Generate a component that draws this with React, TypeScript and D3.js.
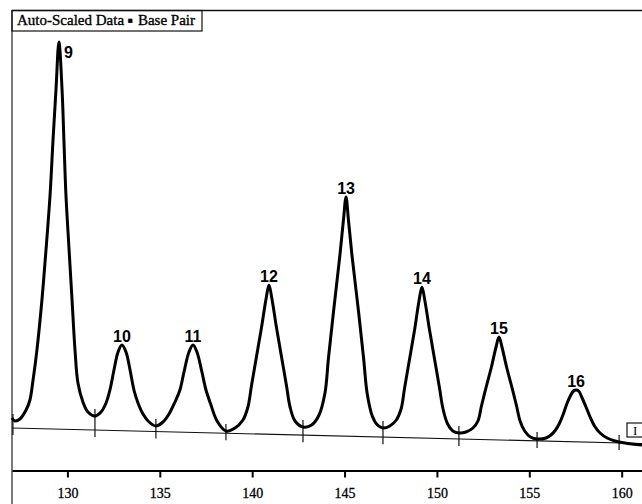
import { useEffect, useRef } from 'react';
import * as d3 from 'd3';

const W = 642;
const H = 504;

// base pair ticks on the bottom axis
const tickValues = [130, 135, 140, 145, 150, 155, 160];

// trace: [base pair, signal]
const trace: [number, number][] = [
  [127.00, 27], [127.16, 24], [127.43, 26], [127.76, 35], [127.97, 45], [128.14, 65], [128.35, 95], [128.62, 145],
  [128.84, 195], [129.06, 250], [129.22, 305], [129.38, 355], [129.54, 403], [129.71, 355], [129.81, 305], [129.92, 250],
  [130.09, 195], [130.25, 145], [130.41, 95], [130.57, 62], [130.84, 43], [131.11, 33], [131.49, 29],
  [131.82, 33], [132.09, 42], [132.30, 55], [132.52, 75], [132.74, 93], [132.95, 100], [133.17, 93], [133.39, 75],
  [133.60, 55], [133.82, 42], [134.09, 31], [134.42, 23], [134.79, 19],
  [135.17, 23], [135.50, 31], [135.82, 43], [136.09, 55], [136.31, 73], [136.58, 93], [136.80, 100], [137.01, 93],
  [137.28, 73], [137.50, 55], [137.77, 40], [138.10, 24], [138.58, 14],
  [139.07, 17], [139.50, 25], [139.77, 38], [139.96, 59], [140.23, 88], [140.50, 117], [140.75, 146], [140.91, 160],
  [141.07, 146], [141.32, 117], [141.59, 88], [141.86, 59], [142.05, 38], [142.32, 24], [142.75, 18],
  [143.22, 20], [143.62, 30], [143.94, 52], [144.13, 87], [144.40, 133], [144.75, 190], [144.94, 225], [145.08, 248],
  [145.21, 225], [145.40, 190], [145.76, 133], [146.03, 87], [146.22, 52], [146.50, 29], [146.78, 20], [147.08, 17],
  [147.45, 19], [147.80, 25], [148.06, 36], [148.25, 57], [148.52, 86], [148.79, 115], [149.03, 144], [149.19, 158],
  [149.35, 144], [149.60, 115], [149.87, 86], [150.14, 57], [150.33, 36], [150.58, 21], [150.86, 14], [151.19, 12],
  [151.57, 13], [151.95, 17], [152.22, 24], [152.41, 39], [152.68, 59], [152.95, 78], [153.20, 98], [153.36, 108],
  [153.52, 98], [153.77, 78], [154.04, 59], [154.31, 39], [154.50, 24], [154.75, 14], [155.06, 8], [155.42, 6],
  [155.90, 7], [156.17, 10], [156.42, 15], [156.64, 22], [156.84, 31], [157.03, 41], [157.22, 49], [157.39, 54],
  [157.53, 55], [157.67, 54], [157.86, 47], [158.07, 38], [158.29, 28], [158.53, 19], [158.83, 12], [159.21, 7],
  [159.64, 4], [160.18, 2], [161.10, 0]
];

// peak labels
const peakLabels = ['9', '10', '11', '12', '13', '14', '15', '16'];
const peakBp = [129.54, 132.95, 136.80, 140.91, 145.08, 149.19, 153.36, 157.53];
const peakSignal = [403, 100, 100, 160, 248, 158, 108, 55];

// valley markers on the baseline
const valleyBp = [127.05, 131.49, 134.79, 138.58, 142.75, 147.08, 151.19, 155.42, 159.86];
const valleySignal = [24, 29, 19, 14, 18, 17, 12, 6, 3];

// sloping baseline
const baselineBp = [127, 161.1];
const baselineSignal = [17, 1.5];

const legendLeft = 'Auto-Scaled Data';
const legendRight = 'Base Pair';
const markerLabel = 'I';

const serif = '"Liberation Serif", "Times New Roman", serif';
const sans = '"Liberation Sans", Arial, sans-serif';

const App = () => {
  const svgRef = useRef(null);

  useEffect(() => {
    const svg = d3.select(svgRef.current);
    svg.selectAll('*').remove();

    const xScale = d3.scaleLinear().domain([127, 161.1]).range([12, 642]);
    const yScale = d3.scaleLinear().domain([0, 403]).range([445, 42]);
    const baseAt = d3.scaleLinear().domain(baselineBp).range(baselineSignal);

    svg.append('rect').attr('width', W).attr('height', H).attr('fill', '#fff');

    // frame: top rule and left rule
    svg.append('line')
      .attr('x1', 12).attr('x2', W).attr('y1', 10.5).attr('y2', 10.5)
      .attr('stroke', '#111').attr('stroke-width', 1.5);
    svg.append('line')
      .attr('x1', 12).attr('x2', 12).attr('y1', 10).attr('y2', H)
      .attr('stroke', '#222').attr('stroke-width', 1.2);

    // legend box
    svg.append('rect')
      .attr('x', 12).attr('y', 10.5).attr('width', 190).attr('height', 20.5)
      .attr('fill', 'none').attr('stroke', '#111').attr('stroke-width', 1.2);
    const legend = svg.append('text')
      .attr('x', 17).attr('y', 25)
      .attr('font-family', serif).attr('font-size', 15).attr('fill', '#000')
      .attr('stroke', '#000').attr('stroke-width', 0.35);
    legend.append('tspan').text(legendLeft);
    legend.append('tspan').attr('dx', 4).attr('font-size', 8).attr('dy', -2).text('■');
    legend.append('tspan').attr('dx', 5).attr('dy', 2).text(legendRight);

    // baseline
    const line = d3.line<[number, number]>()
      .x(d => xScale(d[0]))
      .y(d => yScale(d[1]));

    svg.append('path')
      .attr('d', line(baselineBp.map((b, i) => [b, baselineSignal[i]] as [number, number])))
      .attr('fill', 'none').attr('stroke', '#111').attr('stroke-width', 1.2);

    // valley markers
    svg.selectAll('.marker')
      .data(valleyBp)
      .enter().append('line')
      .attr('class', 'marker')
      .attr('x1', d => xScale(d)).attr('x2', d => xScale(d))
      .attr('y1', (d, i) => yScale(valleySignal[i]) - 7)
      .attr('y2', d => yScale(baseAt(d)) + 7)
      .attr('stroke', '#111').attr('stroke-width', 1.2);

    // trace
    const traceLine = d3.line<[number, number]>()
      .x(d => xScale(d[0]))
      .y(d => yScale(d[1]))
      .curve(d3.curveCatmullRom.alpha(0.5));

    svg.append('path')
      .attr('d', traceLine(trace))
      .attr('fill', 'none').attr('stroke', '#000').attr('stroke-width', 3)
      .attr('stroke-linejoin', 'round');

    // peak labels
    svg.selectAll('.peak')
      .data(peakLabels)
      .enter().append('text')
      .attr('class', 'peak')
      .attr('x', (d, i) => xScale(peakBp[i]) + (i === 0 ? 5 : 0))
      .attr('y', (d, i) => yScale(peakSignal[i]) + (i === 0 ? 16 : -3))
      .attr('text-anchor', (d, i) => i === 0 ? 'start' : 'middle')
      .attr('font-family', sans).attr('font-weight', 'bold').attr('font-size', 16)
      .attr('fill', '#000')
      .text(d => d);

    // marker box on the right
    svg.append('rect')
      .attr('x', 627).attr('y', 423).attr('width', 20).attr('height', 14)
      .attr('fill', '#fff').attr('stroke', '#111').attr('stroke-width', 1.2);
    svg.append('text')
      .attr('x', 633).attr('y', 435)
      .attr('font-family', serif).attr('font-size', 13).attr('fill', '#000')
      .text(markerLabel);

    // bottom axis
    const axis = svg.append('g')
      .attr('transform', 'translate(0, 470.5)')
      .call(d3.axisBottom(xScale).tickValues(tickValues).tickSize(7).tickSizeOuter(0).tickPadding(11).tickFormat(d3.format('d')));
    axis.select('.domain').attr('stroke', '#000').attr('stroke-width', 2);
    axis.selectAll('.tick line').attr('stroke', '#000').attr('stroke-width', 2);
    axis.selectAll('.tick text')
      .attr('font-family', serif).attr('font-size', 14).attr('fill', '#000')
      .attr('stroke', '#000').attr('stroke-width', 0.3);
  }, []);

  return (
    <div>
      <style>{'body{margin:0}'}</style>
      <svg ref={svgRef} width={W} height={H} style={{ display: 'block' }} />
    </div>
  );
};

export default App;
